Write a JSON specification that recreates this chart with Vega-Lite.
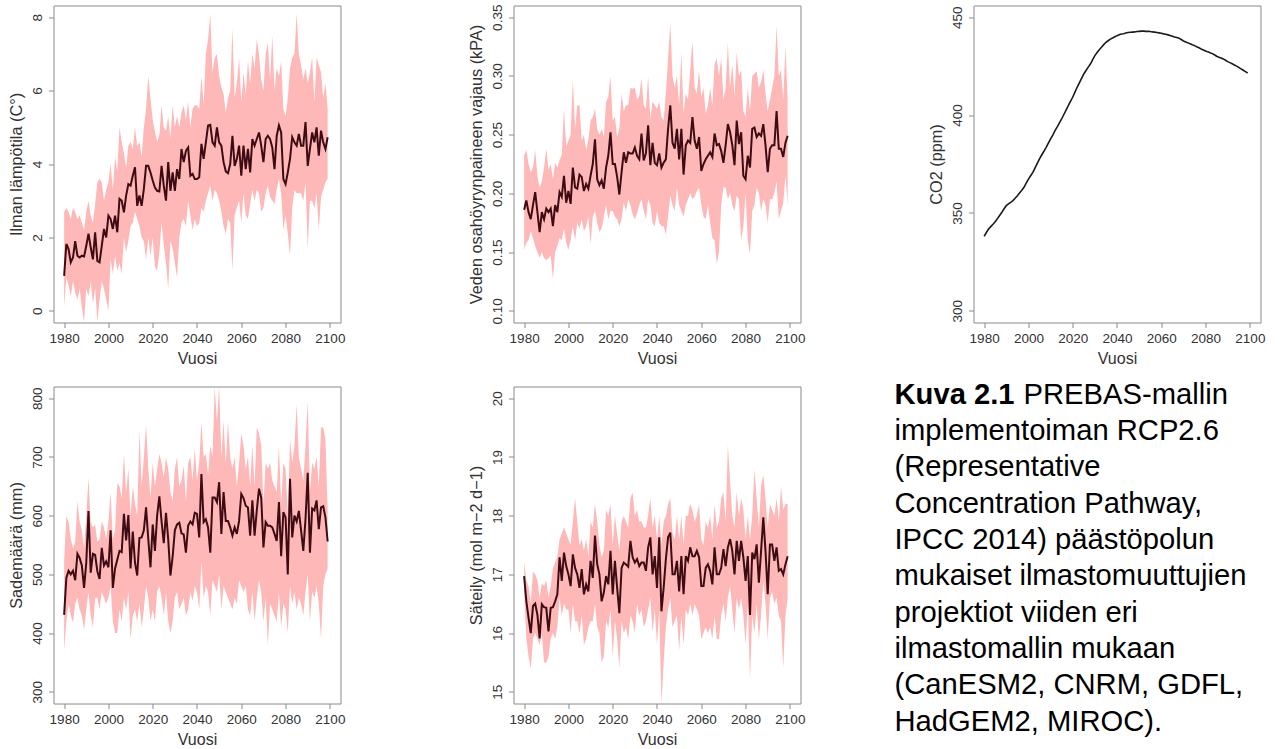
{
  "$schema": "https://vega.github.io/schema/vega-lite/v6.json",
  "background": "white",
  "padding": {"left": 7.5, "top": 3.5, "right": 5, "bottom": 5},
  "bounds": "flush",
  "columns": 3,
  "spacing": {"row": 64, "column": 173},
  "data": {"name": "clim"},
  "datasets": {
    "clim": [
      {"year":1980,"ta":0.95,"ta_lo":0.1,"ta_hi":2.7,"vpd":0.186,"vpd_lo":0.152,"vpd_hi":0.232,"prec":431,"prec_lo":370,"prec_hi":523,"par":16.97,"par_lo":16.7,"par_hi":17.2},
      {"year":1981,"ta":1.82,"ta_lo":0.9,"ta_hi":2.8,"vpd":0.194,"vpd_lo":0.158,"vpd_hi":0.237,"prec":494,"prec_lo":420,"prec_hi":598,"par":16.54,"par_lo":15.9,"par_hi":16.9},
      {"year":1982,"ta":1.68,"ta_lo":0.7,"ta_hi":2.7,"vpd":0.184,"vpd_lo":0.16,"vpd_hi":0.225,"prec":506,"prec_lo":450,"prec_hi":590,"par":16.26,"par_lo":15.6,"par_hi":16.8},
      {"year":1983,"ta":1.32,"ta_lo":0.4,"ta_hi":2.5,"vpd":0.178,"vpd_lo":0.168,"vpd_hi":0.218,"prec":500,"prec_lo":430,"prec_hi":560,"par":16.0,"par_lo":15.4,"par_hi":16.5},
      {"year":1984,"ta":1.45,"ta_lo":0.8,"ta_hi":2.8,"vpd":0.19,"vpd_lo":0.162,"vpd_hi":0.222,"prec":506,"prec_lo":418,"prec_hi":545,"par":16.46,"par_lo":15.9,"par_hi":17.05},
      {"year":1985,"ta":1.9,"ta_lo":0.5,"ta_hi":2.7,"vpd":0.201,"vpd_lo":0.155,"vpd_hi":0.237,"prec":490,"prec_lo":450,"prec_hi":555,"par":16.5,"par_lo":16.0,"par_hi":17.0},
      {"year":1986,"ta":1.5,"ta_lo":0.3,"ta_hi":2.5,"vpd":0.184,"vpd_lo":0.15,"vpd_hi":0.215,"prec":535,"prec_lo":460,"prec_hi":625,"par":16.31,"par_lo":15.9,"par_hi":16.9},
      {"year":1987,"ta":1.45,"ta_lo":0.6,"ta_hi":2.6,"vpd":0.167,"vpd_lo":0.145,"vpd_hi":0.205,"prec":528,"prec_lo":440,"prec_hi":590,"par":15.91,"par_lo":15.8,"par_hi":16.6},
      {"year":1988,"ta":1.5,"ta_lo":0.1,"ta_hi":2.4,"vpd":0.184,"vpd_lo":0.15,"vpd_hi":0.21,"prec":515,"prec_lo":430,"prec_hi":575,"par":16.49,"par_lo":16.0,"par_hi":16.85},
      {"year":1989,"ta":1.48,"ta_lo":-0.3,"ta_hi":2.2,"vpd":0.178,"vpd_lo":0.145,"vpd_hi":0.222,"prec":477,"prec_lo":405,"prec_hi":545,"par":16.44,"par_lo":15.5,"par_hi":16.8},
      {"year":1990,"ta":1.77,"ta_lo":0.6,"ta_hi":2.7,"vpd":0.187,"vpd_lo":0.143,"vpd_hi":0.238,"prec":520,"prec_lo":440,"prec_hi":600,"par":16.43,"par_lo":15.5,"par_hi":16.9},
      {"year":1991,"ta":2.1,"ta_lo":0.4,"ta_hi":3.0,"vpd":0.184,"vpd_lo":0.145,"vpd_hi":0.22,"prec":608,"prec_lo":470,"prec_hi":665,"par":16.03,"par_lo":15.6,"par_hi":16.6},
      {"year":1992,"ta":1.73,"ta_lo":0.8,"ta_hi":2.6,"vpd":0.187,"vpd_lo":0.147,"vpd_hi":0.225,"prec":503,"prec_lo":430,"prec_hi":590,"par":16.43,"par_lo":15.9,"par_hi":16.8},
      {"year":1993,"ta":1.4,"ta_lo":0.2,"ta_hi":2.4,"vpd":0.172,"vpd_lo":0.127,"vpd_hi":0.212,"prec":535,"prec_lo":410,"prec_hi":580,"par":16.44,"par_lo":16.0,"par_hi":17.1},
      {"year":1994,"ta":2.14,"ta_lo":0.6,"ta_hi":2.9,"vpd":0.19,"vpd_lo":0.15,"vpd_hi":0.226,"prec":533,"prec_lo":460,"prec_hi":585,"par":16.54,"par_lo":15.9,"par_hi":17.2},
      {"year":1995,"ta":1.36,"ta_lo":-0.3,"ta_hi":3.5,"vpd":0.184,"vpd_lo":0.155,"vpd_hi":0.222,"prec":505,"prec_lo":460,"prec_hi":555,"par":16.66,"par_lo":16.1,"par_hi":17.3},
      {"year":1996,"ta":1.32,"ta_lo":0.3,"ta_hi":3.6,"vpd":0.201,"vpd_lo":0.162,"vpd_hi":0.228,"prec":492,"prec_lo":440,"prec_hi":560,"par":17.29,"par_lo":16.6,"par_hi":17.6},
      {"year":1997,"ta":1.77,"ta_lo":0.8,"ta_hi":3.5,"vpd":0.197,"vpd_lo":0.16,"vpd_hi":0.233,"prec":545,"prec_lo":470,"prec_hi":590,"par":16.89,"par_lo":16.3,"par_hi":17.7},
      {"year":1998,"ta":2.23,"ta_lo":0.6,"ta_hi":3.0,"vpd":0.215,"vpd_lo":0.17,"vpd_hi":0.272,"prec":515,"prec_lo":460,"prec_hi":580,"par":17.37,"par_lo":16.5,"par_hi":17.8},
      {"year":1999,"ta":2.0,"ta_lo":0.3,"ta_hi":3.3,"vpd":0.192,"vpd_lo":0.158,"vpd_hi":0.24,"prec":522,"prec_lo":450,"prec_hi":560,"par":17.14,"par_lo":16.4,"par_hi":17.7},
      {"year":2000,"ta":2.59,"ta_lo":0.0,"ta_hi":3.5,"vpd":0.202,"vpd_lo":0.152,"vpd_hi":0.245,"prec":512,"prec_lo":460,"prec_hi":590,"par":17.0,"par_lo":16.4,"par_hi":17.6},
      {"year":2001,"ta":2.5,"ta_lo":1.4,"ta_hi":4.0,"vpd":0.191,"vpd_lo":0.16,"vpd_hi":0.25,"prec":575,"prec_lo":480,"prec_hi":640,"par":16.8,"par_lo":16.0,"par_hi":17.5},
      {"year":2002,"ta":2.23,"ta_lo":1.0,"ta_hi":3.3,"vpd":0.222,"vpd_lo":0.172,"vpd_hi":0.297,"prec":477,"prec_lo":420,"prec_hi":560,"par":17.34,"par_lo":16.5,"par_hi":17.9},
      {"year":2003,"ta":2.59,"ta_lo":1.5,"ta_hi":4.2,"vpd":0.205,"vpd_lo":0.16,"vpd_hi":0.255,"prec":510,"prec_lo":400,"prec_hi":575,"par":17.11,"par_lo":16.2,"par_hi":18.3},
      {"year":2004,"ta":2.14,"ta_lo":1.1,"ta_hi":3.8,"vpd":0.204,"vpd_lo":0.175,"vpd_hi":0.275,"prec":525,"prec_lo":400,"prec_hi":655,"par":17.0,"par_lo":16.2,"par_hi":17.9},
      {"year":2005,"ta":3.05,"ta_lo":1.3,"ta_hi":5.0,"vpd":0.216,"vpd_lo":0.17,"vpd_hi":0.275,"prec":540,"prec_lo":440,"prec_hi":650,"par":16.77,"par_lo":16.0,"par_hi":17.5},
      {"year":2006,"ta":3.0,"ta_lo":1.0,"ta_hi":4.6,"vpd":0.214,"vpd_lo":0.178,"vpd_hi":0.245,"prec":538,"prec_lo":420,"prec_hi":630,"par":17.09,"par_lo":16.3,"par_hi":17.6},
      {"year":2007,"ta":2.68,"ta_lo":2.0,"ta_hi":4.3,"vpd":0.202,"vpd_lo":0.168,"vpd_hi":0.25,"prec":603,"prec_lo":460,"prec_hi":705,"par":16.66,"par_lo":15.8,"par_hi":17.4},
      {"year":2008,"ta":3.14,"ta_lo":1.6,"ta_hi":3.9,"vpd":0.208,"vpd_lo":0.172,"vpd_hi":0.237,"prec":558,"prec_lo":440,"prec_hi":640,"par":16.83,"par_lo":15.9,"par_hi":17.6},
      {"year":2009,"ta":3.45,"ta_lo":1.9,"ta_hi":4.5,"vpd":0.204,"vpd_lo":0.18,"vpd_hi":0.245,"prec":601,"prec_lo":470,"prec_hi":680,"par":16.71,"par_lo":16.1,"par_hi":17.3},
      {"year":2010,"ta":3.41,"ta_lo":2.3,"ta_hi":4.6,"vpd":0.215,"vpd_lo":0.157,"vpd_hi":0.262,"prec":510,"prec_lo":390,"prec_hi":600,"par":17.23,"par_lo":16.2,"par_hi":17.9},
      {"year":2011,"ta":3.68,"ta_lo":2.4,"ta_hi":4.4,"vpd":0.225,"vpd_lo":0.18,"vpd_hi":0.265,"prec":573,"prec_lo":430,"prec_hi":650,"par":16.94,"par_lo":16.2,"par_hi":17.8},
      {"year":2012,"ta":3.91,"ta_lo":2.7,"ta_hi":5.0,"vpd":0.246,"vpd_lo":0.185,"vpd_hi":0.272,"prec":520,"prec_lo":440,"prec_hi":620,"par":17.66,"par_lo":16.5,"par_hi":18.2},
      {"year":2013,"ta":2.86,"ta_lo":2.5,"ta_hi":4.5,"vpd":0.212,"vpd_lo":0.175,"vpd_hi":0.255,"prec":498,"prec_lo":420,"prec_hi":600,"par":17.17,"par_lo":16.1,"par_hi":17.9},
      {"year":2014,"ta":3.14,"ta_lo":2.3,"ta_hi":4.6,"vpd":0.207,"vpd_lo":0.167,"vpd_hi":0.25,"prec":562,"prec_lo":450,"prec_hi":745,"par":17.0,"par_lo":16.0,"par_hi":17.5},
      {"year":2015,"ta":2.86,"ta_lo":2.0,"ta_hi":4.2,"vpd":0.211,"vpd_lo":0.17,"vpd_hi":0.255,"prec":563,"prec_lo":410,"prec_hi":650,"par":16.54,"par_lo":15.5,"par_hi":17.3},
      {"year":2016,"ta":3.32,"ta_lo":1.9,"ta_hi":5.0,"vpd":0.204,"vpd_lo":0.18,"vpd_hi":0.248,"prec":575,"prec_lo":440,"prec_hi":700,"par":16.69,"par_lo":15.6,"par_hi":17.4},
      {"year":2017,"ta":3.95,"ta_lo":1.4,"ta_hi":5.5,"vpd":0.222,"vpd_lo":0.19,"vpd_hi":0.278,"prec":614,"prec_lo":480,"prec_hi":755,"par":16.97,"par_lo":16.2,"par_hi":18.1},
      {"year":2018,"ta":3.95,"ta_lo":2.0,"ta_hi":6.4,"vpd":0.232,"vpd_lo":0.178,"vpd_hi":0.282,"prec":560,"prec_lo":460,"prec_hi":680,"par":16.83,"par_lo":16.1,"par_hi":18.0},
      {"year":2019,"ta":3.77,"ta_lo":1.5,"ta_hi":5.8,"vpd":0.252,"vpd_lo":0.185,"vpd_hi":0.3,"prec":512,"prec_lo":420,"prec_hi":630,"par":17.4,"par_lo":16.4,"par_hi":18.2},
      {"year":2020,"ta":3.55,"ta_lo":2.0,"ta_hi":5.2,"vpd":0.225,"vpd_lo":0.185,"vpd_hi":0.262,"prec":585,"prec_lo":440,"prec_hi":690,"par":16.66,"par_lo":15.6,"par_hi":17.5},
      {"year":2021,"ta":3.36,"ta_lo":1.2,"ta_hi":4.9,"vpd":0.225,"vpd_lo":0.18,"vpd_hi":0.265,"prec":540,"prec_lo":420,"prec_hi":650,"par":17.23,"par_lo":16.2,"par_hi":18.0},
      {"year":2022,"ta":3.27,"ta_lo":1.1,"ta_hi":4.6,"vpd":0.214,"vpd_lo":0.178,"vpd_hi":0.248,"prec":600,"prec_lo":470,"prec_hi":680,"par":16.77,"par_lo":15.9,"par_hi":17.7},
      {"year":2023,"ta":3.25,"ta_lo":1.6,"ta_hi":4.8,"vpd":0.199,"vpd_lo":0.172,"vpd_hi":0.255,"prec":633,"prec_lo":480,"prec_hi":705,"par":16.34,"par_lo":15.4,"par_hi":17.4},
      {"year":2024,"ta":3.95,"ta_lo":2.4,"ta_hi":5.6,"vpd":0.218,"vpd_lo":0.178,"vpd_hi":0.285,"prec":590,"prec_lo":460,"prec_hi":690,"par":17.11,"par_lo":16.2,"par_hi":17.9},
      {"year":2025,"ta":3.41,"ta_lo":1.8,"ta_hi":5.0,"vpd":0.235,"vpd_lo":0.192,"vpd_hi":0.27,"prec":553,"prec_lo":430,"prec_hi":665,"par":17.2,"par_lo":16.0,"par_hi":18.0},
      {"year":2026,"ta":3.0,"ta_lo":1.3,"ta_hi":4.9,"vpd":0.226,"vpd_lo":0.185,"vpd_hi":0.275,"prec":605,"prec_lo":470,"prec_hi":700,"par":17.17,"par_lo":16.1,"par_hi":17.9},
      {"year":2027,"ta":4.05,"ta_lo":0.6,"ta_hi":5.3,"vpd":0.235,"vpd_lo":0.195,"vpd_hi":0.275,"prec":560,"prec_lo":420,"prec_hi":680,"par":17.13,"par_lo":15.9,"par_hi":17.8},
      {"year":2028,"ta":3.27,"ta_lo":1.9,"ta_hi":4.7,"vpd":0.234,"vpd_lo":0.19,"vpd_hi":0.29,"prec":498,"prec_lo":400,"prec_hi":640,"par":17.57,"par_lo":16.3,"par_hi":18.3},
      {"year":2029,"ta":3.77,"ta_lo":1.7,"ta_hi":5.6,"vpd":0.234,"vpd_lo":0.182,"vpd_hi":0.289,"prec":530,"prec_lo":420,"prec_hi":625,"par":17.29,"par_lo":16.2,"par_hi":18.4},
      {"year":2030,"ta":3.27,"ta_lo":1.3,"ta_hi":5.0,"vpd":0.239,"vpd_lo":0.178,"vpd_hi":0.29,"prec":575,"prec_lo":460,"prec_hi":680,"par":17.2,"par_lo":16.0,"par_hi":18.0},
      {"year":2031,"ta":3.86,"ta_lo":0.9,"ta_hi":5.3,"vpd":0.232,"vpd_lo":0.183,"vpd_hi":0.28,"prec":585,"prec_lo":470,"prec_hi":700,"par":17.26,"par_lo":16.5,"par_hi":18.1},
      {"year":2032,"ta":3.59,"ta_lo":2.0,"ta_hi":5.0,"vpd":0.229,"vpd_lo":0.19,"vpd_hi":0.283,"prec":588,"prec_lo":440,"prec_hi":650,"par":17.14,"par_lo":16.3,"par_hi":17.9},
      {"year":2033,"ta":4.41,"ta_lo":2.4,"ta_hi":5.4,"vpd":0.251,"vpd_lo":0.195,"vpd_hi":0.298,"prec":570,"prec_lo":450,"prec_hi":660,"par":17.2,"par_lo":16.4,"par_hi":17.9},
      {"year":2034,"ta":4.05,"ta_lo":2.5,"ta_hi":5.6,"vpd":0.228,"vpd_lo":0.185,"vpd_hi":0.275,"prec":568,"prec_lo":460,"prec_hi":685,"par":17.2,"par_lo":16.1,"par_hi":17.8},
      {"year":2035,"ta":4.36,"ta_lo":2.3,"ta_hi":5.2,"vpd":0.234,"vpd_lo":0.178,"vpd_hi":0.272,"prec":537,"prec_lo":430,"prec_hi":625,"par":17.06,"par_lo":16.2,"par_hi":17.8},
      {"year":2036,"ta":4.45,"ta_lo":3.0,"ta_hi":5.7,"vpd":0.258,"vpd_lo":0.195,"vpd_hi":0.3,"prec":583,"prec_lo":440,"prec_hi":690,"par":17.46,"par_lo":16.4,"par_hi":18.0},
      {"year":2037,"ta":3.68,"ta_lo":2.6,"ta_hi":5.0,"vpd":0.224,"vpd_lo":0.19,"vpd_hi":0.263,"prec":590,"prec_lo":470,"prec_hi":700,"par":17.63,"par_lo":16.6,"par_hi":18.3},
      {"year":2038,"ta":3.73,"ta_lo":2.2,"ta_hi":5.5,"vpd":0.243,"vpd_lo":0.175,"vpd_hi":0.278,"prec":585,"prec_lo":455,"prec_hi":660,"par":17.0,"par_lo":16.0,"par_hi":17.8},
      {"year":2039,"ta":3.59,"ta_lo":2.5,"ta_hi":5.6,"vpd":0.226,"vpd_lo":0.172,"vpd_hi":0.275,"prec":605,"prec_lo":480,"prec_hi":715,"par":17.31,"par_lo":16.4,"par_hi":18.0},
      {"year":2040,"ta":3.59,"ta_lo":2.3,"ta_hi":5.6,"vpd":0.224,"vpd_lo":0.185,"vpd_hi":0.272,"prec":603,"prec_lo":470,"prec_hi":660,"par":16.77,"par_lo":15.8,"par_hi":17.6},
      {"year":2041,"ta":3.64,"ta_lo":2.4,"ta_hi":5.5,"vpd":0.234,"vpd_lo":0.175,"vpd_hi":0.278,"prec":563,"prec_lo":440,"prec_hi":690,"par":17.63,"par_lo":16.4,"par_hi":18.0},
      {"year":2042,"ta":4.55,"ta_lo":2.8,"ta_hi":6.4,"vpd":0.222,"vpd_lo":0.172,"vpd_hi":0.265,"prec":671,"prec_lo":520,"prec_hi":760,"par":16.37,"par_lo":14.8,"par_hi":17.5},
      {"year":2043,"ta":4.14,"ta_lo":2.7,"ta_hi":5.6,"vpd":0.226,"vpd_lo":0.172,"vpd_hi":0.262,"prec":589,"prec_lo":460,"prec_hi":700,"par":16.77,"par_lo":15.5,"par_hi":17.9},
      {"year":2044,"ta":4.59,"ta_lo":3.0,"ta_hi":7.0,"vpd":0.229,"vpd_lo":0.165,"vpd_hi":0.285,"prec":594,"prec_lo":480,"prec_hi":705,"par":17.26,"par_lo":16.1,"par_hi":18.0},
      {"year":2045,"ta":5.05,"ta_lo":3.2,"ta_hi":7.4,"vpd":0.255,"vpd_lo":0.18,"vpd_hi":0.315,"prec":580,"prec_lo":470,"prec_hi":670,"par":17.63,"par_lo":16.4,"par_hi":18.2},
      {"year":2046,"ta":5.07,"ta_lo":3.4,"ta_hi":8.1,"vpd":0.275,"vpd_lo":0.198,"vpd_hi":0.345,"prec":537,"prec_lo":430,"prec_hi":720,"par":17.71,"par_lo":16.6,"par_hi":18.3},
      {"year":2047,"ta":4.59,"ta_lo":3.0,"ta_hi":6.5,"vpd":0.243,"vpd_lo":0.19,"vpd_hi":0.3,"prec":631,"prec_lo":490,"prec_hi":700,"par":17.0,"par_lo":16.1,"par_hi":17.7},
      {"year":2048,"ta":4.5,"ta_lo":3.3,"ta_hi":6.9,"vpd":0.238,"vpd_lo":0.185,"vpd_hi":0.29,"prec":631,"prec_lo":480,"prec_hi":820,"par":17.0,"par_lo":16.2,"par_hi":17.6},
      {"year":2049,"ta":5.0,"ta_lo":3.2,"ta_hi":7.0,"vpd":0.255,"vpd_lo":0.205,"vpd_hi":0.3,"prec":623,"prec_lo":470,"prec_hi":760,"par":17.23,"par_lo":16.3,"par_hi":18.0},
      {"year":2050,"ta":4.59,"ta_lo":3.0,"ta_hi":6.4,"vpd":0.229,"vpd_lo":0.19,"vpd_hi":0.275,"prec":657,"prec_lo":500,"prec_hi":820,"par":16.71,"par_lo":15.7,"par_hi":17.6},
      {"year":2051,"ta":4.5,"ta_lo":2.7,"ta_hi":6.1,"vpd":0.255,"vpd_lo":0.185,"vpd_hi":0.32,"prec":569,"prec_lo":440,"prec_hi":700,"par":17.31,"par_lo":16.3,"par_hi":18.0},
      {"year":2052,"ta":4.05,"ta_lo":2.3,"ta_hi":5.9,"vpd":0.216,"vpd_lo":0.18,"vpd_hi":0.268,"prec":640,"prec_lo":480,"prec_hi":760,"par":16.66,"par_lo":15.8,"par_hi":17.5},
      {"year":2053,"ta":3.8,"ta_lo":2.1,"ta_hi":5.4,"vpd":0.241,"vpd_lo":0.19,"vpd_hi":0.285,"prec":591,"prec_lo":470,"prec_hi":690,"par":17.31,"par_lo":16.4,"par_hi":18.0},
      {"year":2054,"ta":3.75,"ta_lo":2.5,"ta_hi":5.8,"vpd":0.245,"vpd_lo":0.195,"vpd_hi":0.28,"prec":591,"prec_lo":460,"prec_hi":760,"par":17.23,"par_lo":16.3,"par_hi":18.0},
      {"year":2055,"ta":4.0,"ta_lo":2.4,"ta_hi":6.0,"vpd":0.243,"vpd_lo":0.2,"vpd_hi":0.305,"prec":580,"prec_lo":450,"prec_hi":700,"par":17.46,"par_lo":16.5,"par_hi":18.2},
      {"year":2056,"ta":4.77,"ta_lo":1.1,"ta_hi":7.7,"vpd":0.265,"vpd_lo":0.195,"vpd_hi":0.33,"prec":566,"prec_lo":440,"prec_hi":680,"par":17.31,"par_lo":16.3,"par_hi":18.1},
      {"year":2057,"ta":3.95,"ta_lo":2.6,"ta_hi":5.8,"vpd":0.245,"vpd_lo":0.197,"vpd_hi":0.29,"prec":580,"prec_lo":460,"prec_hi":700,"par":17.31,"par_lo":16.5,"par_hi":17.9},
      {"year":2058,"ta":4.14,"ta_lo":2.8,"ta_hi":6.2,"vpd":0.238,"vpd_lo":0.202,"vpd_hi":0.285,"prec":569,"prec_lo":450,"prec_hi":650,"par":17.4,"par_lo":16.4,"par_hi":18.0},
      {"year":2059,"ta":4.5,"ta_lo":3.0,"ta_hi":6.9,"vpd":0.248,"vpd_lo":0.205,"vpd_hi":0.305,"prec":591,"prec_lo":490,"prec_hi":690,"par":17.29,"par_lo":16.3,"par_hi":18.2},
      {"year":2060,"ta":3.68,"ta_lo":2.4,"ta_hi":5.7,"vpd":0.219,"vpd_lo":0.19,"vpd_hi":0.282,"prec":637,"prec_lo":480,"prec_hi":740,"par":16.8,"par_lo":15.9,"par_hi":17.6},
      {"year":2061,"ta":4.5,"ta_lo":3.2,"ta_hi":6.5,"vpd":0.225,"vpd_lo":0.18,"vpd_hi":0.29,"prec":630,"prec_lo":470,"prec_hi":720,"par":16.8,"par_lo":16.0,"par_hi":17.5},
      {"year":2062,"ta":3.86,"ta_lo":2.6,"ta_hi":5.9,"vpd":0.229,"vpd_lo":0.178,"vpd_hi":0.268,"prec":617,"prec_lo":480,"prec_hi":680,"par":17.11,"par_lo":16.1,"par_hi":17.9},
      {"year":2063,"ta":4.41,"ta_lo":2.5,"ta_hi":6.8,"vpd":0.232,"vpd_lo":0.19,"vpd_hi":0.275,"prec":614,"prec_lo":440,"prec_hi":700,"par":17.17,"par_lo":16.0,"par_hi":17.8},
      {"year":2064,"ta":3.77,"ta_lo":2.9,"ta_hi":6.2,"vpd":0.235,"vpd_lo":0.175,"vpd_hi":0.29,"prec":566,"prec_lo":430,"prec_hi":650,"par":17.06,"par_lo":16.1,"par_hi":18.0},
      {"year":2065,"ta":4.68,"ta_lo":3.3,"ta_hi":7.0,"vpd":0.231,"vpd_lo":0.162,"vpd_hi":0.275,"prec":626,"prec_lo":470,"prec_hi":720,"par":16.83,"par_lo":15.9,"par_hi":17.6},
      {"year":2066,"ta":4.5,"ta_lo":3.0,"ta_hi":6.6,"vpd":0.251,"vpd_lo":0.16,"vpd_hi":0.31,"prec":566,"prec_lo":420,"prec_hi":650,"par":17.46,"par_lo":16.3,"par_hi":18.2},
      {"year":2067,"ta":4.68,"ta_lo":3.3,"ta_hi":7.4,"vpd":0.241,"vpd_lo":0.14,"vpd_hi":0.315,"prec":609,"prec_lo":460,"prec_hi":750,"par":17.0,"par_lo":15.9,"par_hi":17.8},
      {"year":2068,"ta":4.86,"ta_lo":3.2,"ta_hi":7.0,"vpd":0.242,"vpd_lo":0.15,"vpd_hi":0.3,"prec":646,"prec_lo":490,"prec_hi":740,"par":17.0,"par_lo":15.9,"par_hi":17.9},
      {"year":2069,"ta":4.5,"ta_lo":2.7,"ta_hi":6.3,"vpd":0.236,"vpd_lo":0.19,"vpd_hi":0.315,"prec":631,"prec_lo":470,"prec_hi":720,"par":17.11,"par_lo":16.3,"par_hi":18.3},
      {"year":2070,"ta":4.05,"ta_lo":2.8,"ta_hi":6.0,"vpd":0.226,"vpd_lo":0.205,"vpd_hi":0.28,"prec":546,"prec_lo":420,"prec_hi":620,"par":17.43,"par_lo":16.5,"par_hi":18.4},
      {"year":2071,"ta":4.68,"ta_lo":3.2,"ta_hi":7.0,"vpd":0.241,"vpd_lo":0.205,"vpd_hi":0.29,"prec":589,"prec_lo":460,"prec_hi":690,"par":17.14,"par_lo":16.2,"par_hi":17.9},
      {"year":2072,"ta":4.77,"ta_lo":3.4,"ta_hi":7.3,"vpd":0.259,"vpd_lo":0.195,"vpd_hi":0.328,"prec":583,"prec_lo":380,"prec_hi":680,"par":17.46,"par_lo":16.6,"par_hi":19.2},
      {"year":2073,"ta":4.68,"ta_lo":3.1,"ta_hi":6.3,"vpd":0.252,"vpd_lo":0.2,"vpd_hi":0.29,"prec":583,"prec_lo":450,"prec_hi":690,"par":17.6,"par_lo":16.8,"par_hi":18.6},
      {"year":2074,"ta":4.45,"ta_lo":3.0,"ta_hi":7.5,"vpd":0.241,"vpd_lo":0.19,"vpd_hi":0.31,"prec":580,"prec_lo":440,"prec_hi":660,"par":17.4,"par_lo":16.4,"par_hi":18.0},
      {"year":2075,"ta":3.86,"ta_lo":2.9,"ta_hi":6.0,"vpd":0.224,"vpd_lo":0.185,"vpd_hi":0.282,"prec":569,"prec_lo":430,"prec_hi":650,"par":17.0,"par_lo":16.0,"par_hi":17.8},
      {"year":2076,"ta":4.77,"ta_lo":3.3,"ta_hi":6.6,"vpd":0.262,"vpd_lo":0.198,"vpd_hi":0.32,"prec":557,"prec_lo":420,"prec_hi":640,"par":17.57,"par_lo":16.6,"par_hi":18.4},
      {"year":2077,"ta":5.05,"ta_lo":3.6,"ta_hi":6.4,"vpd":0.242,"vpd_lo":0.195,"vpd_hi":0.3,"prec":623,"prec_lo":470,"prec_hi":720,"par":17.23,"par_lo":16.4,"par_hi":18.0},
      {"year":2078,"ta":4.86,"ta_lo":3.2,"ta_hi":6.8,"vpd":0.252,"vpd_lo":0.16,"vpd_hi":0.305,"prec":531,"prec_lo":410,"prec_hi":620,"par":17.57,"par_lo":16.6,"par_hi":18.3},
      {"year":2079,"ta":3.59,"ta_lo":2.2,"ta_hi":5.5,"vpd":0.215,"vpd_lo":0.172,"vpd_hi":0.27,"prec":606,"prec_lo":450,"prec_hi":690,"par":17.29,"par_lo":16.3,"par_hi":18.1},
      {"year":2080,"ta":3.45,"ta_lo":2.6,"ta_hi":5.3,"vpd":0.212,"vpd_lo":0.2,"vpd_hi":0.265,"prec":597,"prec_lo":440,"prec_hi":680,"par":16.89,"par_lo":15.8,"par_hi":17.6},
      {"year":2081,"ta":3.77,"ta_lo":2.1,"ta_hi":5.8,"vpd":0.232,"vpd_lo":0.16,"vpd_hi":0.29,"prec":500,"prec_lo":400,"prec_hi":600,"par":17.31,"par_lo":16.5,"par_hi":18.0},
      {"year":2082,"ta":4.14,"ta_lo":1.5,"ta_hi":6.6,"vpd":0.222,"vpd_lo":0.148,"vpd_hi":0.27,"prec":663,"prec_lo":480,"prec_hi":730,"par":16.31,"par_lo":15.2,"par_hi":17.6},
      {"year":2083,"ta":4.73,"ta_lo":2.8,"ta_hi":6.9,"vpd":0.255,"vpd_lo":0.185,"vpd_hi":0.3,"prec":563,"prec_lo":450,"prec_hi":690,"par":17.37,"par_lo":16.3,"par_hi":18.0},
      {"year":2084,"ta":4.59,"ta_lo":3.3,"ta_hi":7.0,"vpd":0.256,"vpd_lo":0.19,"vpd_hi":0.302,"prec":600,"prec_lo":470,"prec_hi":720,"par":17.26,"par_lo":16.0,"par_hi":18.8},
      {"year":2085,"ta":4.5,"ta_lo":3.2,"ta_hi":8.1,"vpd":0.248,"vpd_lo":0.205,"vpd_hi":0.304,"prec":590,"prec_lo":440,"prec_hi":790,"par":17.51,"par_lo":16.5,"par_hi":18.3},
      {"year":2086,"ta":4.82,"ta_lo":3.2,"ta_hi":7.0,"vpd":0.251,"vpd_lo":0.2,"vpd_hi":0.29,"prec":608,"prec_lo":460,"prec_hi":700,"par":16.86,"par_lo":15.9,"par_hi":17.8},
      {"year":2087,"ta":4.5,"ta_lo":3.2,"ta_hi":6.7,"vpd":0.249,"vpd_lo":0.185,"vpd_hi":0.295,"prec":575,"prec_lo":450,"prec_hi":680,"par":17.4,"par_lo":16.3,"par_hi":18.5},
      {"year":2088,"ta":4.5,"ta_lo":3.0,"ta_hi":6.3,"vpd":0.259,"vpd_lo":0.195,"vpd_hi":0.305,"prec":540,"prec_lo":430,"prec_hi":660,"par":17.97,"par_lo":16.9,"par_hi":18.7},
      {"year":2089,"ta":5.14,"ta_lo":3.5,"ta_hi":6.6,"vpd":0.241,"vpd_lo":0.19,"vpd_hi":0.285,"prec":594,"prec_lo":470,"prec_hi":720,"par":17.4,"par_lo":16.5,"par_hi":18.3},
      {"year":2090,"ta":3.95,"ta_lo":1.7,"ta_hi":6.2,"vpd":0.218,"vpd_lo":0.175,"vpd_hi":0.27,"prec":673,"prec_lo":500,"prec_hi":795,"par":16.66,"par_lo":15.9,"par_hi":17.8},
      {"year":2091,"ta":4.41,"ta_lo":3.0,"ta_hi":6.5,"vpd":0.238,"vpd_lo":0.195,"vpd_hi":0.28,"prec":537,"prec_lo":420,"prec_hi":640,"par":17.51,"par_lo":16.6,"par_hi":18.2},
      {"year":2092,"ta":4.86,"ta_lo":3.0,"ta_hi":6.9,"vpd":0.241,"vpd_lo":0.195,"vpd_hi":0.29,"prec":612,"prec_lo":470,"prec_hi":690,"par":17.51,"par_lo":16.7,"par_hi":18.1},
      {"year":2093,"ta":4.59,"ta_lo":2.8,"ta_hi":5.7,"vpd":0.241,"vpd_lo":0.2,"vpd_hi":0.3,"prec":609,"prec_lo":460,"prec_hi":680,"par":17.23,"par_lo":16.5,"par_hi":18.0},
      {"year":2094,"ta":5.0,"ta_lo":3.2,"ta_hi":6.9,"vpd":0.27,"vpd_lo":0.21,"vpd_hi":0.343,"prec":626,"prec_lo":480,"prec_hi":700,"par":17.46,"par_lo":16.6,"par_hi":18.3},
      {"year":2095,"ta":4.23,"ta_lo":2.2,"ta_hi":6.7,"vpd":0.238,"vpd_lo":0.178,"vpd_hi":0.3,"prec":577,"prec_lo":450,"prec_hi":650,"par":17.06,"par_lo":16.3,"par_hi":17.9},
      {"year":2096,"ta":4.91,"ta_lo":3.1,"ta_hi":6.5,"vpd":0.238,"vpd_lo":0.185,"vpd_hi":0.305,"prec":614,"prec_lo":390,"prec_hi":750,"par":17.09,"par_lo":16.2,"par_hi":18.5},
      {"year":2097,"ta":4.59,"ta_lo":3.3,"ta_hi":5.8,"vpd":0.231,"vpd_lo":0.192,"vpd_hi":0.28,"prec":616,"prec_lo":480,"prec_hi":750,"par":17.0,"par_lo":15.4,"par_hi":18.1},
      {"year":2098,"ta":4.41,"ta_lo":3.5,"ta_hi":6.2,"vpd":0.243,"vpd_lo":0.215,"vpd_hi":0.325,"prec":597,"prec_lo":500,"prec_hi":730,"par":17.17,"par_lo":16.3,"par_hi":18.2},
      {"year":2099,"ta":4.73,"ta_lo":3.6,"ta_hi":5.5,"vpd":0.249,"vpd_lo":0.19,"vpd_hi":0.28,"prec":556,"prec_lo":510,"prec_hi":610,"par":17.31,"par_lo":16.6,"par_hi":18.2}
    ],
    "co2": [
      {"year":1980,"co2":338.0},{"year":1981,"co2":340.0},{"year":1982,"co2":341.8},{"year":1983,"co2":343.0},{"year":1984,"co2":344.2},
      {"year":1985,"co2":345.5},{"year":1986,"co2":347.1},{"year":1987,"co2":348.7},{"year":1988,"co2":350.3},{"year":1989,"co2":352.1},
      {"year":1990,"co2":353.7},{"year":1991,"co2":354.6},{"year":1992,"co2":355.4},{"year":1993,"co2":356.3},{"year":1994,"co2":357.5},
      {"year":1995,"co2":358.8},{"year":1996,"co2":360.2},{"year":1997,"co2":361.6},{"year":1998,"co2":363.1},{"year":1999,"co2":365.2},
      {"year":2000,"co2":367.3},{"year":2001,"co2":369.0},{"year":2002,"co2":370.7},{"year":2003,"co2":373.0},{"year":2004,"co2":375.3},
      {"year":2005,"co2":377.6},{"year":2006,"co2":379.6},{"year":2007,"co2":381.5},{"year":2008,"co2":383.5},{"year":2009,"co2":385.7},
      {"year":2010,"co2":387.8},{"year":2011,"co2":389.8},{"year":2012,"co2":392.1},{"year":2013,"co2":394.0},{"year":2014,"co2":396.0},
      {"year":2015,"co2":398.0},{"year":2016,"co2":400.3},{"year":2017,"co2":402.5},{"year":2018,"co2":404.8},{"year":2019,"co2":407.0},
      {"year":2020,"co2":409.1},{"year":2021,"co2":411.7},{"year":2022,"co2":414.2},{"year":2023,"co2":416.5},{"year":2024,"co2":418.8},
      {"year":2025,"co2":421.0},{"year":2026,"co2":422.8},{"year":2027,"co2":424.5},{"year":2028,"co2":426.1},{"year":2029,"co2":428.3},
      {"year":2030,"co2":430.4},{"year":2031,"co2":432.0},{"year":2032,"co2":433.4},{"year":2033,"co2":434.7},{"year":2034,"co2":436.0},
      {"year":2035,"co2":437.2},{"year":2036,"co2":438.0},{"year":2037,"co2":438.8},{"year":2038,"co2":439.4},{"year":2039,"co2":440.0},
      {"year":2040,"co2":440.6},{"year":2041,"co2":441.0},{"year":2042,"co2":441.4},{"year":2043,"co2":441.6},{"year":2044,"co2":441.9},
      {"year":2045,"co2":442.2},{"year":2046,"co2":442.3},{"year":2047,"co2":442.4},{"year":2048,"co2":442.5},{"year":2049,"co2":442.7},
      {"year":2050,"co2":442.8},{"year":2051,"co2":442.9},{"year":2052,"co2":442.9},{"year":2053,"co2":442.8},{"year":2054,"co2":442.8},
      {"year":2055,"co2":442.7},{"year":2056,"co2":442.5},{"year":2057,"co2":442.4},{"year":2058,"co2":442.2},{"year":2059,"co2":442.0},
      {"year":2060,"co2":441.8},{"year":2061,"co2":441.5},{"year":2062,"co2":441.3},{"year":2063,"co2":441.0},{"year":2064,"co2":440.7},
      {"year":2065,"co2":440.3},{"year":2066,"co2":439.9},{"year":2067,"co2":439.6},{"year":2068,"co2":439.3},{"year":2069,"co2":438.6},
      {"year":2070,"co2":437.9},{"year":2071,"co2":437.4},{"year":2072,"co2":436.9},{"year":2073,"co2":436.4},{"year":2074,"co2":435.9},
      {"year":2075,"co2":435.5},{"year":2076,"co2":434.9},{"year":2077,"co2":434.4},{"year":2078,"co2":433.8},{"year":2079,"co2":433.3},
      {"year":2080,"co2":432.8},{"year":2081,"co2":432.3},{"year":2082,"co2":431.9},{"year":2083,"co2":431.4},{"year":2084,"co2":430.8},
      {"year":2085,"co2":430.1},{"year":2086,"co2":429.6},{"year":2087,"co2":429.2},{"year":2088,"co2":428.7},{"year":2089,"co2":428.0},
      {"year":2090,"co2":427.3},{"year":2091,"co2":426.8},{"year":2092,"co2":426.2},{"year":2093,"co2":425.6},{"year":2094,"co2":425.0},
      {"year":2095,"co2":424.4},{"year":2096,"co2":423.6},{"year":2097,"co2":422.9},{"year":2098,"co2":422.2},{"year":2099,"co2":421.5}
    ],
    "caption": [
      {"line":1,"part":"head","txt":"Kuva 2.1"},
      {"line":1,"part":"tail","txt":"PREBAS-mallin"},
      {"line":2,"part":"body","txt":"implementoiman RCP2.6"},
      {"line":3,"part":"body","txt":"(Representative"},
      {"line":4,"part":"body","txt":"Concentration Pathway,"},
      {"line":5,"part":"body","txt":"IPCC 2014) päästöpolun"},
      {"line":6,"part":"body","txt":"mukaiset ilmastomuuttujien"},
      {"line":7,"part":"body","txt":"projektiot viiden eri"},
      {"line":8,"part":"body","txt":"ilmastomallin mukaan"},
      {"line":9,"part":"body","txt":"(CanESM2, CNRM, GDFL,"},
      {"line":10,"part":"body","txt":"HadGEM2, MIROC)."}
    ]
  },
  "concat": [
    {
      "width": 287, "height": 317,
      "encoding": {
        "x": {"field": "year", "type": "quantitative", "scale": {"domain": [1975.2, 2104.8], "nice": false, "zero": false}, "axis": {"values": [1980, 2000, 2020, 2040, 2060, 2080, 2100], "format": "d", "title": "Vuosi"}}
      },
      "layer": [
        {"mark": {"type": "area", "color": "#ffb8b8", "clip": true},
         "encoding": {"y": {"field": "ta_lo", "type": "quantitative", "scale": {"domain": [-0.32, 8.32], "nice": false, "zero": false}, "axis": {"values": [0, 2, 4, 6, 8], "title": "Ilman lämpötila (C°)"}}, "y2": {"field": "ta_hi"}}},
        {"mark": {"type": "line", "color": "#3d0c12", "strokeWidth": 2, "clip": true},
         "encoding": {"y": {"field": "ta", "type": "quantitative", "axis": {"values": [0, 2, 4, 6, 8], "title": "Ilman lämpötila (C°)"}}}}
      ]
    },
    {
      "width": 287, "height": 317,
      "encoding": {
        "x": {"field": "year", "type": "quantitative", "scale": {"domain": [1975.2, 2104.8], "nice": false, "zero": false}, "axis": {"values": [1980, 2000, 2020, 2040, 2060, 2080, 2100], "format": "d", "title": "Vuosi"}}
      },
      "layer": [
        {"mark": {"type": "area", "color": "#ffb8b8", "clip": true},
         "encoding": {"y": {"field": "vpd_lo", "type": "quantitative", "scale": {"domain": [0.09, 0.36], "nice": false, "zero": false}, "axis": {"values": [0.1, 0.15, 0.2, 0.25, 0.3, 0.35], "format": ".2f", "title": "Veden osahöyrynpaineen vajaus (kPA)"}}, "y2": {"field": "vpd_hi"}}},
        {"mark": {"type": "line", "color": "#3d0c12", "strokeWidth": 2, "clip": true},
         "encoding": {"y": {"field": "vpd", "type": "quantitative", "axis": {"values": [0.1, 0.15, 0.2, 0.25, 0.3, 0.35], "format": ".2f", "title": "Veden osahöyrynpaineen vajaus (kPA)"}}}}
      ]
    },
    {
      "width": 287, "height": 317,
      "data": {"name": "co2"},
      "mark": {"type": "line", "color": "#1a1a1a", "strokeWidth": 1.6, "clip": true},
      "encoding": {
        "x": {"field": "year", "type": "quantitative", "scale": {"domain": [1975.2, 2104.8], "nice": false, "zero": false}, "axis": {"values": [1980, 2000, 2020, 2040, 2060, 2080, 2100], "format": "d", "title": "Vuosi"}},
        "y": {"field": "co2", "type": "quantitative", "scale": {"domain": [294, 456], "nice": false, "zero": false}, "axis": {"values": [300, 350, 400, 450], "title": "CO2 (ppm)"}}
      }
    },
    {
      "width": 287, "height": 317,
      "encoding": {
        "x": {"field": "year", "type": "quantitative", "scale": {"domain": [1975.2, 2104.8], "nice": false, "zero": false}, "axis": {"values": [1980, 2000, 2020, 2040, 2060, 2080, 2100], "format": "d", "title": "Vuosi"}}
      },
      "layer": [
        {"mark": {"type": "area", "color": "#ffb8b8", "clip": true},
         "encoding": {"y": {"field": "prec_lo", "type": "quantitative", "scale": {"domain": [280, 820], "nice": false, "zero": false}, "axis": {"values": [300, 400, 500, 600, 700, 800], "title": "Sademäärä (mm)"}}, "y2": {"field": "prec_hi"}}},
        {"mark": {"type": "line", "color": "#3d0c12", "strokeWidth": 2, "clip": true},
         "encoding": {"y": {"field": "prec", "type": "quantitative", "axis": {"values": [300, 400, 500, 600, 700, 800], "title": "Sademäärä (mm)"}}}}
      ]
    },
    {
      "width": 287, "height": 317,
      "encoding": {
        "x": {"field": "year", "type": "quantitative", "scale": {"domain": [1975.2, 2104.8], "nice": false, "zero": false}, "axis": {"values": [1980, 2000, 2020, 2040, 2060, 2080, 2100], "format": "d", "title": "Vuosi"}}
      },
      "layer": [
        {"mark": {"type": "area", "color": "#ffb8b8", "clip": true},
         "encoding": {"y": {"field": "par_lo", "type": "quantitative", "scale": {"domain": [14.8, 20.2], "nice": false, "zero": false}, "axis": {"values": [15, 16, 17, 18, 19, 20], "title": "Säteily (mol m−2 d−1)"}}, "y2": {"field": "par_hi"}}},
        {"mark": {"type": "line", "color": "#3d0c12", "strokeWidth": 2, "clip": true},
         "encoding": {"y": {"field": "par", "type": "quantitative", "axis": {"values": [15, 16, 17, 18, 19, 20], "title": "Säteily (mol m−2 d−1)"}}}}
      ]
    },
    {
      "width": 287, "height": 317,
      "data": {"name": "caption"},
      "view": {"stroke": null},
      "encoding": {
        "y": {"field": "line", "type": "quantitative", "scale": {"domain": [0.523, 9.256], "reverse": true, "nice": false, "zero": false}, "axis": null}
      },
      "layer": [
        {"transform": [{"filter": "datum.part === 'head'"}],
         "mark": {"type": "text", "align": "left", "baseline": "alphabetic", "x": -79, "font": "Liberation Sans", "fontSize": 29.2, "fontWeight": "bold", "color": "#000000"},
         "encoding": {"text": {"field": "txt"}}},
        {"transform": [{"filter": "datum.part === 'tail'"}],
         "mark": {"type": "text", "align": "left", "baseline": "alphabetic", "x": 50, "font": "Liberation Sans", "fontSize": 29.2, "color": "#000000"},
         "encoding": {"text": {"field": "txt"}}},
        {"transform": [{"filter": "datum.part === 'body'"}],
         "mark": {"type": "text", "align": "left", "baseline": "alphabetic", "x": -79, "font": "Liberation Sans", "fontSize": 29.2, "color": "#000000"},
         "encoding": {"text": {"field": "txt"}}}
      ]
    }
  ],
  "config": {
    "font": "Liberation Sans",
    "view": {"stroke": "#8a8a8a", "strokeWidth": 1},
    "axis": {
      "grid": false, "domain": false, "ticks": true, "tickSize": 5, "tickColor": "#8a8a8a", "tickWidth": 1,
      "labelFont": "Liberation Sans", "labelFontSize": 13.5, "labelColor": "#333333",
      "titleFont": "Liberation Sans", "titleFontSize": 16.3, "titleFontWeight": "normal", "titleColor": "#333333"
    },
    "axisX": {"labelPadding": 4, "titlePadding": 5, "labelFlush": false, "labelOverlap": false, "titleFontSize": 16},
    "axisY": {"labelAngle": -90, "labelAlign": "center", "labelBaseline": "alphabetic", "labelPadding": 7, "titlePadding": 6, "labelFontSize": 13.5, "labelOverlap": false, "labelFlush": false}
  }
}
